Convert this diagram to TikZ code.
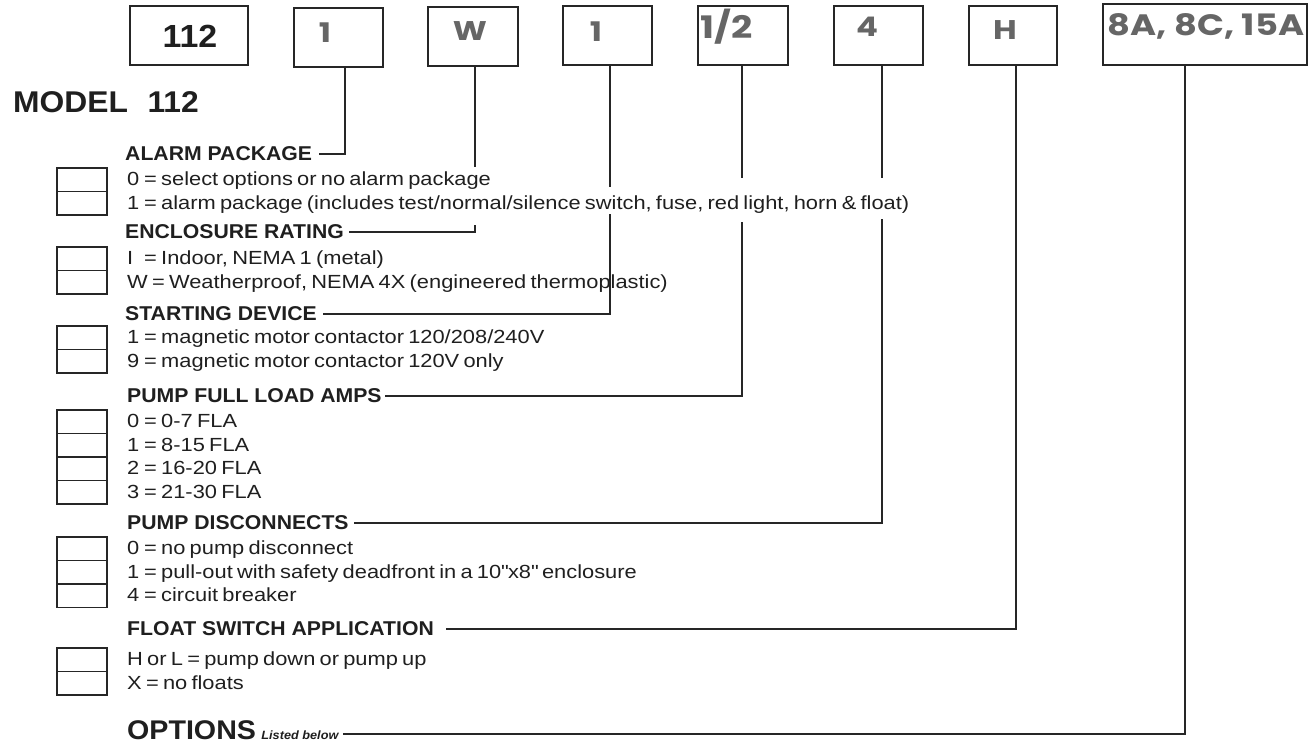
\documentclass[tikz,border=0pt]{standalone}
\usepackage{fontspec}
\usetikzlibrary{positioning}
\newfontfamily\descfont[FakeStretch=1.15,WordSpace=0.7]{Liberation Sans}
\newfontfamily\headfont[FakeStretch=1.06]{Liberation Sans}
\newfontfamily\boxfont[FakeStretch=1.2]{Poppins}
\newcommand{\optcode}[1]{\makebox[17pt][l]{#1}}

\begin{document}
\begin{tikzpicture}[x=1pt, y=-1pt,
    topbox/.style={draw=black!85, line width=2pt, minimum height=59pt, inner sep=0pt},
    boxtxt/.style={text=black!60, font=\boxfont\bfseries\fontsize{27}{27}\selectfont, inner sep=0pt},
    head/.style={anchor=west, inner sep=0pt, text=black!88, font=\headfont\bfseries\fontsize{20}{20}\selectfont},
    desc/.style={anchor=base west, inner sep=0pt, text=black!88, font=\descfont\fontsize{19}{19}\selectfont},
    wire/.style={draw=black!85, line width=1.4pt},
    chkbox/.style={draw=black!85, line width=1.6pt}]
  \useasboundingbox (0,0) rectangle (1315,744);

  % Code boxes
  \node[topbox, minimum width=118pt] (bM) at (189,35.5) {};
  \node[topbox, minimum width=89pt] (bA) at (338.5,37) {};
  \node[topbox, minimum width=90pt] (bE) at (473,36) {};
  \node[topbox, minimum width=89pt] (bS) at (607.5,35.5) {};
  \node[topbox, minimum width=90pt] (bF) at (743,35.5) {};
  \node[topbox, minimum width=89pt] (bD) at (878.5,35.5) {};
  \node[topbox, minimum width=88pt] (bL) at (1013,35.5) {};
  \node[topbox, minimum width=204pt, minimum height=61pt] (bO) at (1205,34.5) {};

  % Codes
  \node[inner sep=0pt, text=black!88, font=\headfont\bfseries\fontsize{32}{32}\selectfont] (tM) at (190,36) {112};
  \node[boxtxt] (tA) at (325,33) {1};
  \node[boxtxt] (tE) at (470,31) {W};
  \node[boxtxt] (tS) at (596,32) {1};
  \node[boxtxt, anchor=west, font=\boxfont\bfseries\fontsize{31}{31}\selectfont] (tF) at (700,27) {1/2};
  \node[boxtxt] (tD) at (867,27) {4};
  \node[boxtxt] (tL) at (1005,30) {H};
  \node[boxtxt, text depth=0pt, font=\boxfont\bfseries\fontsize{29.5}{29.5}\selectfont] (tO) at (1206,25) {8A, 8C, 15A};

  % Title
  \node[anchor=west, inner sep=0pt, text=black!88, font=\headfont\bfseries\fontsize{30}{30}\selectfont] (model) at (13,102.5) {MODEL\hspace{0.65em}112};

  % Headings
  \node[head] (hA) at (125,154) {ALARM PACKAGE};
  \node[head] (hE) at (125,232) {ENCLOSURE RATING};
  \node[head] (hS) at (125,314) {STARTING DEVICE};
  \node[head] (hF) at (127,396) {PUMP FULL LOAD AMPS};
  \node[head] (hD) at (127,523) {PUMP DISCONNECTS};
  \node[head] (hL) at (127,629) {FLOAT SWITCH APPLICATION};
  \node[head, font=\headfont\bfseries\fontsize{27}{27}\selectfont] (hO) at (127,730) {OPTIONS};
  \node[anchor=base west, inner sep=0pt, text=black!88, font=\headfont\bfseries\itshape\fontsize{12}{12}\selectfont] (hOn) at ([xshift=5pt]hO.base east) {Listed below};

  % Check boxes
  \foreach \ty/\n in {168/2, 247/2, 326/2, 410/4, 537/3, 648/2} {
    \draw[chkbox] (57,\ty) rectangle (107,{\ty+23.5*\n});
    \pgfmathtruncatemacro\m{\n-1}
    \foreach \k in {1,...,\m}
      \draw[chkbox] (57,{\ty+23.5*\k}) -- (107,{\ty+23.5*\k});
  }

  % Choices
  \node[desc] (a0) at (127,185.5) {\optcode{0}= select options or no alarm package};
  \node[desc] (a1) at (127,209) {\optcode{1}= alarm package (includes test/normal/silence switch, fuse, red light, horn \& float)};
  \node[desc] (e0) at (127,264.5) {\optcode{I}= Indoor, NEMA 1 (metal)};
  \node[desc] (e1) at (127,288) {W = Weatherproof, NEMA 4X (engineered thermoplastic)};
  \node[desc] (s0) at (127,343.5) {\optcode{1}= magnetic motor contactor 120/208/240V};
  \node[desc] (s1) at (127,367) {\optcode{9}= magnetic motor contactor 120V only};
  \foreach \txt [count=\i from 0] in {0-7, 8-15, 16-20, 21-30}
    \node[desc] (f\i) at (127,{427.5+23.5*\i}) {\optcode{\i}= \txt\ FLA};
  \node[desc] (d0) at (127,554.5) {\optcode{0}= no pump disconnect};
  \node[desc] (d1) at (127,578) {\optcode{1}= pull-out with safety deadfront in a 10\textquotedbl x8\textquotedbl\ enclosure};
  \node[desc] (d4) at (127,601.5) {\optcode{4}= circuit breaker};
  \node[desc] (l0) at (127,665.5) {H or L = pump down or pump up};
  \node[desc] (l1) at (127,689) {X = no floats};

  % Leaders
  \coordinate (cA) at (345,154);
  \coordinate (cE) at (475,232);
  \coordinate (cS) at (610,314);
  \coordinate (cF) at (742,396);
  \coordinate (cD) at (882,523);
  \coordinate (cL) at (1016,629);
  \coordinate (cO) at (1185,734);
  \draw[wire] (bA.south -| cA) -- (cA) -- ([xshift=7pt]hA.east);
  \draw[wire] (bE.south -| cE) -- (475,167);
  \draw[wire] (475,225) -- (cE) -- ([xshift=5pt]hE.east);
  \draw[wire] (bS.south -| cS) -- (610,187);
  \draw[wire] (610,214) -- (cS) -- ([xshift=6pt]hS.east);
  \draw[wire] (bF.south -| cF) -- (742,178);
  \draw[wire] (742,222) -- (cF) -- ([xshift=3pt]hF.east);
  \draw[wire] (bD.south -| cD) -- (882,178);
  \draw[wire] (882,219) -- (cD) -- ([xshift=5pt]hD.east);
  \draw[wire] (bL.south -| cL) -- (cL) -- ([xshift=12pt]hL.east);
  \draw[wire] (bO.south -| cO) -- (cO) -- ([xshift=4pt]hOn.east |- cO);
\end{tikzpicture}
\end{document}
